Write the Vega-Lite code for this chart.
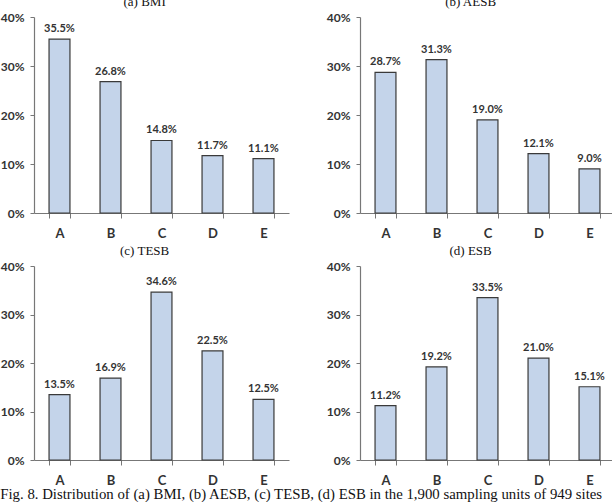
{
  "$schema": "https://vega.github.io/schema/vega-lite/v6.json",
  "background": "white",
  "padding": {"left": 0, "top": -4, "right": 0, "bottom": 0},
  "data": {
    "values": [
      {"panel": "BMI", "group": "A", "share": 0.355},
      {"panel": "BMI", "group": "B", "share": 0.268},
      {"panel": "BMI", "group": "C", "share": 0.148},
      {"panel": "BMI", "group": "D", "share": 0.117},
      {"panel": "BMI", "group": "E", "share": 0.111},
      {"panel": "AESB", "group": "A", "share": 0.287},
      {"panel": "AESB", "group": "B", "share": 0.313},
      {"panel": "AESB", "group": "C", "share": 0.190},
      {"panel": "AESB", "group": "D", "share": 0.121},
      {"panel": "AESB", "group": "E", "share": 0.090},
      {"panel": "TESB", "group": "A", "share": 0.135},
      {"panel": "TESB", "group": "B", "share": 0.169},
      {"panel": "TESB", "group": "C", "share": 0.346},
      {"panel": "TESB", "group": "D", "share": 0.225},
      {"panel": "TESB", "group": "E", "share": 0.125},
      {"panel": "ESB", "group": "A", "share": 0.112},
      {"panel": "ESB", "group": "B", "share": 0.192},
      {"panel": "ESB", "group": "C", "share": 0.335},
      {"panel": "ESB", "group": "D", "share": 0.210},
      {"panel": "ESB", "group": "E", "share": 0.151}
    ]
  },
  "title": {
    "text": "Fig. 8. Distribution of (a) BMI, (b) AESB, (c) TESB, (d) ESB in the 1,900 sampling units of 949 sites",
    "orient": "bottom",
    "anchor": "start",
    "frame": "bounds",
    "font": "Liberation Serif",
    "fontSize": 14.8,
    "fontWeight": "normal",
    "color": "#111",
    "offset": 0
  },
  "columns": 2,
  "spacing": {"row": 5, "column": 37},
  "concat": [
    {
      "title": "(a)  BMI",
      "transform": [{"filter": "datum.panel == 'BMI'"}],
      "width": 255,
      "height": 196,
      "encoding": {
        "x": {"field": "group", "type": "nominal", "scale": {"paddingInner": 0.59, "paddingOuter": 0.295}, "axis": {"tickBand": "extent"}},
        "y": {"field": "share", "type": "quantitative", "scale": {"domain": [0, 0.4], "nice": false}, "axis": {"format": ".0%", "values": [0, 0.1, 0.2, 0.3, 0.4]}}
      },
      "layer": [
        {"mark": {"type": "bar", "fill": "#c4d4ea", "stroke": "#3a3a3a", "strokeWidth": 1.2}},
        {"mark": {"type": "text", "baseline": "bottom", "dy": -5, "font": "Lato", "fontSize": 11, "fontWeight": "bold", "color": "#333"},
         "encoding": {"text": {"field": "share", "type": "quantitative", "format": ".1%"}}}
      ]
    },
    {
      "title": "(b)  AESB",
      "transform": [{"filter": "datum.panel == 'AESB'"}],
      "width": 255,
      "height": 196,
      "encoding": {
        "x": {"field": "group", "type": "nominal", "scale": {"paddingInner": 0.59, "paddingOuter": 0.295}, "axis": {"tickBand": "extent"}},
        "y": {"field": "share", "type": "quantitative", "scale": {"domain": [0, 0.4], "nice": false}, "axis": {"format": ".0%", "values": [0, 0.1, 0.2, 0.3, 0.4]}}
      },
      "layer": [
        {"mark": {"type": "bar", "fill": "#c4d4ea", "stroke": "#3a3a3a", "strokeWidth": 1.2}},
        {"mark": {"type": "text", "baseline": "bottom", "dy": -5, "font": "Lato", "fontSize": 11, "fontWeight": "bold", "color": "#333"},
         "encoding": {"text": {"field": "share", "type": "quantitative", "format": ".1%"}}}
      ]
    },
    {
      "title": "(c)  TESB",
      "transform": [{"filter": "datum.panel == 'TESB'"}],
      "width": 255,
      "height": 194,
      "encoding": {
        "x": {"field": "group", "type": "nominal", "scale": {"paddingInner": 0.59, "paddingOuter": 0.295}, "axis": {"tickBand": "extent"}},
        "y": {"field": "share", "type": "quantitative", "scale": {"domain": [0, 0.4], "nice": false}, "axis": {"format": ".0%", "values": [0, 0.1, 0.2, 0.3, 0.4]}}
      },
      "layer": [
        {"mark": {"type": "bar", "fill": "#c4d4ea", "stroke": "#3a3a3a", "strokeWidth": 1.2}},
        {"mark": {"type": "text", "baseline": "bottom", "dy": -5, "font": "Lato", "fontSize": 11, "fontWeight": "bold", "color": "#333"},
         "encoding": {"text": {"field": "share", "type": "quantitative", "format": ".1%"}}}
      ]
    },
    {
      "title": "(d)  ESB",
      "transform": [{"filter": "datum.panel == 'ESB'"}],
      "width": 255,
      "height": 194,
      "encoding": {
        "x": {"field": "group", "type": "nominal", "scale": {"paddingInner": 0.59, "paddingOuter": 0.295}, "axis": {"tickBand": "extent"}},
        "y": {"field": "share", "type": "quantitative", "scale": {"domain": [0, 0.4], "nice": false}, "axis": {"format": ".0%", "values": [0, 0.1, 0.2, 0.3, 0.4]}}
      },
      "layer": [
        {"mark": {"type": "bar", "fill": "#c4d4ea", "stroke": "#3a3a3a", "strokeWidth": 1.2}},
        {"mark": {"type": "text", "baseline": "bottom", "dy": -5, "font": "Lato", "fontSize": 11, "fontWeight": "bold", "color": "#333"},
         "encoding": {"text": {"field": "share", "type": "quantitative", "format": ".1%"}}}
      ]
    }
  ],
  "config": {
    "view": {"stroke": null},
    "title": {
      "font": "Liberation Serif",
      "fontSize": 13,
      "fontWeight": "normal",
      "color": "#111",
      "anchor": "middle",
      "frame": "bounds",
      "offset": 2
    },
    "axis": {
      "grid": false,
      "title": null,
      "labelFont": "Lato",
      "labelFontWeight": "bold",
      "labelColor": "#333",
      "domainColor": "#777",
      "tickColor": "#777",
      "domainWidth": 1.2
    },
    "axisX": {"labelAngle": 0, "tickSize": 5, "labelPadding": 9, "labelFontSize": 13},
    "axisY": {"tickSize": 4, "labelPadding": 6, "labelFontSize": 12}
  }
}
